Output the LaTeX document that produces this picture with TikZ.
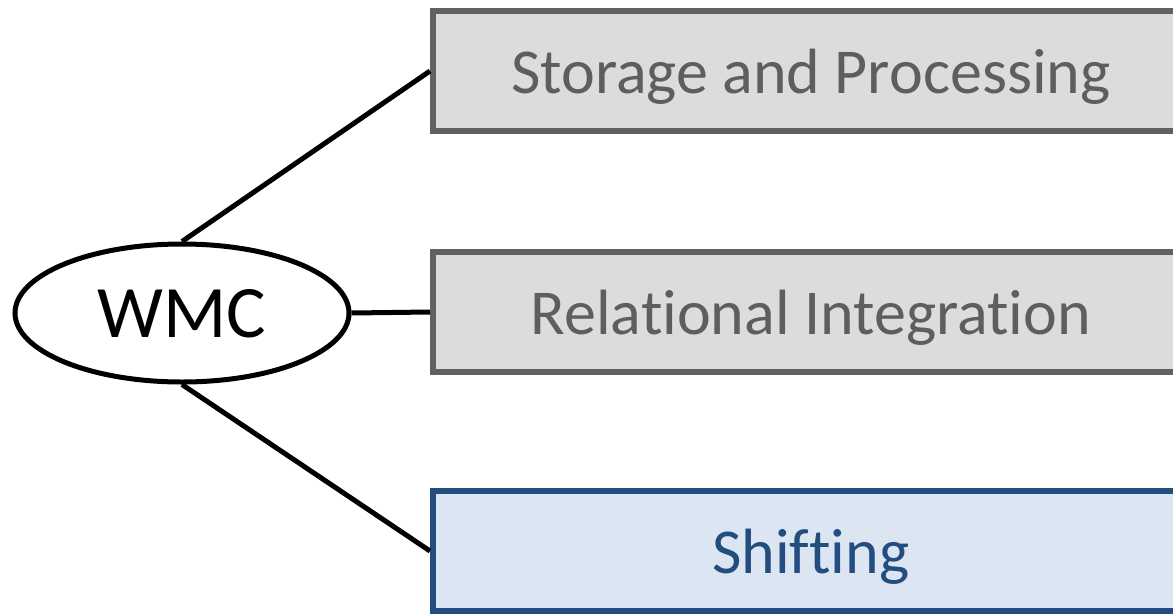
\documentclass[tikz,border=0pt]{standalone}
\usepackage{fontspec}
\setmainfont[Ligatures=NoCommon]{Carlito}
\usetikzlibrary{shapes.geometric}
\definecolor{boxgray}{HTML}{DCDCDC}
\definecolor{edgegray}{HTML}{616161}
\definecolor{textgray}{HTML}{5E5E5E}
\definecolor{boxblue}{HTML}{DCE6F2}
\definecolor{edgeblue}{HTML}{244D7F}
\tikzset{
  every node/.style={inner sep=0pt},
  topic/.style={draw=edgegray, fill=boxgray, text=textgray, line width=5.5pt,
    font=\fontsize{64}{70}\selectfont, text height=44pt, text depth=0pt,
    minimum width=756pt, minimum height=120pt, anchor=west},
  chosen/.style={topic, draw=edgeblue, fill=boxblue, text=edgeblue},
  root/.style={draw=black, ellipse, line width=5pt, minimum width=334pt, minimum height=138pt,
    font=\fontsize{74}{80}\selectfont, text height=48pt, text depth=0pt},
  link/.style={draw=black, line width=5pt}
}
\begin{document}
\begin{tikzpicture}[x=1pt, y=-1pt]
  \useasboundingbox (0,0) rectangle (1173,614);
  \clip (0,0) rectangle (1173,614);
  \node[root] (wmc) at (182,313) {WMC};
  \node[topic] (sp) at (430,71) {Storage and Processing};
  \node[topic] (ri) at (430,312) {Relational Integration};
  \node[chosen] (sh) at (430,551) {Shifting};
  \draw[link] (wmc.north) -- (sp.west);
  \draw[link] (wmc.east) -- (ri.west);
  \draw[link] (wmc.south) -- (sh.west);
\end{tikzpicture}
\end{document}
